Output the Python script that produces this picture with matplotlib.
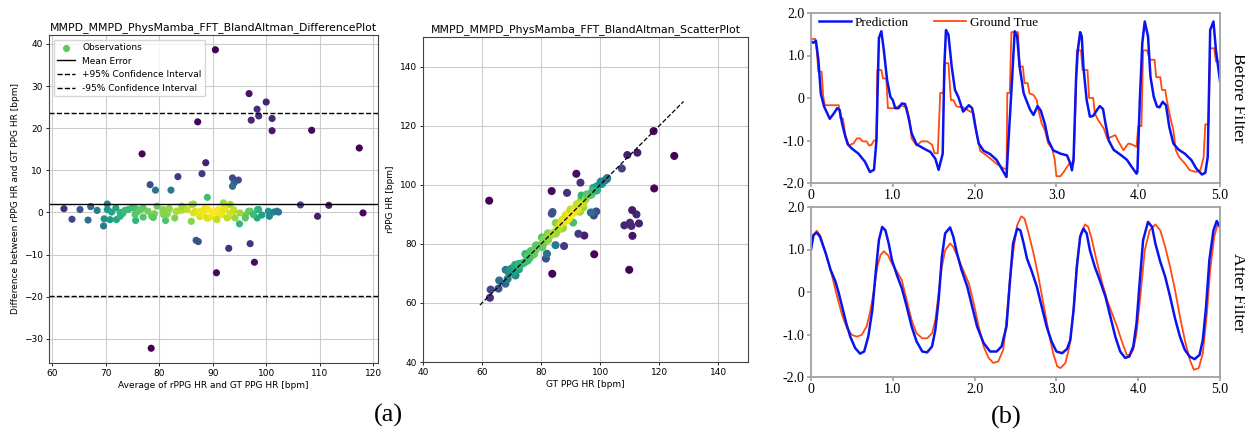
"""Bland-Altman plots (a) and rPPG waveforms before/after filtering (b)."""
import numpy as np
import matplotlib
matplotlib.use("Agg")
import matplotlib.pyplot as plt

# ---- (a) Bland-Altman data: mean of HRs, GT - rPPG
MEAN_HR = [
    90.5, 96.8, 100.0, 98.3, 98.6, 97.2, 101.1, 101.1, 87.2, 108.5, 117.4, 76.8,
    88.7, 88.0, 83.5, 78.3, 79.3, 82.2, 93.7, 94.8, 94.0, 93.7, 89.0,
    86.9, 87.3, 93.0, 97.0, 97.8, 90.7, 78.5,
    106.4, 109.6, 111.7, 118.1,
    62.2, 63.7, 65.2, 66.7, 67.2, 68.4, 69.6, 70.3, 70.3, 69.7, 70.8, 71.1,
    71.9, 72.0, 72.7, 73.6, 74.2, 75.6, 75.6, 76.1, 77.0, 77.0, 77.9, 78.6,
    79.1, 80.7, 81.2, 81.5, 81.9, 82.9, 83.2, 84.2, 84.8, 86.0, 86.4, 86.7,
    87.6, 88.5, 89.2, 90.1, 90.4,
    90.6, 91.1, 92.0, 92.3, 93.3, 93.0, 93.9, 94.2, 95.0, 96.1, 97.0, 98.3,
    98.6, 99.2, 100.4, 100.6, 101.4, 102.0, 102.3,
    87.7, 88.3, 88.9, 89.2, 89.8, 90.2, 90.8, 91.1, 91.7, 92.0, 92.7, 93.3,
    93.9, 86.1, 86.4, 85.2, 84.2, 83.3, 81.8, 80.8, 79.6, 78.9, 76.5, 75.5,
    74.9, 73.2, 72.7, 95.1, 96.1, 96.7, 97.6, 98.4,
]
DIFF_HR = [
    38.6, 28.2, 26.2, 24.5, 22.9, 21.9, 22.3, 19.4, 21.5, 19.5, 15.3, 13.9,
    11.8, 9.2, 8.5, 6.6, 5.3, 5.3, 8.2, 7.7, 7.0, 6.2, 3.6,
    -6.6, -6.9, -8.5, -7.4, -11.8, -14.3, -32.2,
    1.8, -0.9, 1.7, -0.1,
    0.9, -1.6, 0.7, -1.8, 1.4, 0.5, -3.2, 2.0, 0.7, -1.5, -1.7, 0.1,
    1.1, -1.7, 0.0, 0.5, 0.7, -1.9, 0.9, 0.3, 1.1, -1.1, 0.3, -0.9,
    -0.3, 0.7, -1.9, -0.4, 0.9, -1.3, 0.3, 0.5, 1.0, -2.1, 2.0, 0.3,
    -1.0, 0.9, -1.3, -0.9, 0.3,
    -1.3, 0.7, 2.3, 0.9, 1.9, -1.0, 0.3, -1.3, -2.7, -0.7, 0.3, -1.3,
    0.7, -0.6, 0.3, -0.9, 0.1, 0.3, 0.1,
    0.3, -0.5, -1.3, 0.7, -0.9, -0.1, -1.7, 0.3, -0.5, 0.7, -1.3, -0.1,
    0.7, 1.9, -0.1, 0.7, 1.5, 0.3, 0.9, -0.5, 1.5, -1.2, 0.7, -0.5,
    1.1, -0.2, -0.9, -0.1, -1.3, 0.3, -0.5, 0.7,
]
MEAN_ERROR = 1.95
UPPER_LOA = 23.6
LOWER_LOA = -19.7

# ---- (b) waveforms, time in seconds
BEFORE_PRED_T = [
    0.00, 0.03, 0.06, 0.09, 0.12, 0.16, 0.23, 0.28, 0.32, 0.35, 0.38, 0.42, 0.45,
    0.50, 0.58, 0.66, 0.72, 0.77, 0.80, 0.83, 0.86, 0.89, 0.93, 0.97, 1.00, 1.03,
    1.07, 1.11, 1.15, 1.19, 1.23, 1.29, 1.38, 1.46, 1.52, 1.56, 1.59, 1.61, 1.63,
    1.65, 1.68, 1.72, 1.76, 1.80, 1.86, 1.88, 1.93, 1.97, 2.01, 2.05, 2.11, 2.19,
    2.27, 2.33, 2.39, 2.41, 2.46, 2.49, 2.52, 2.55, 2.60, 2.64, 2.68, 2.72, 2.77,
    2.81, 2.86, 2.90, 2.96, 3.05, 3.13, 3.17, 3.19, 3.21, 3.24, 3.26, 3.29, 3.31,
    3.33, 3.37, 3.41, 3.45, 3.49, 3.53, 3.57, 3.60, 3.64, 3.70, 3.78, 3.86, 3.92,
    3.98, 3.99, 4.02, 4.05, 4.08, 4.12, 4.15, 4.19, 4.23, 4.26, 4.30, 4.34, 4.38,
    4.43, 4.49, 4.57, 4.65, 4.71, 4.78, 4.82, 4.85, 4.88, 4.92, 4.95, 5.00,
]
BEFORE_PRED_V = [
    1.33, 1.30, 1.35, 0.90, 0.10, -0.20, -0.49, -0.36, -0.24, -0.28, -0.60, -0.91, -1.09,
    -1.19, -1.31, -1.50, -1.74, -1.69, -1.00, 1.41, 1.57, 1.13, 0.43, 0.03, -0.05, -0.24,
    -0.24, -0.13, -0.14, -0.44, -0.83, -1.09, -1.19, -1.27, -1.43, -1.69, -1.46, -1.31, 0.74,
    1.60, 1.49, 0.74, 0.19, 0.03, -0.32, -0.28, -0.17, -0.24, -0.68, -1.07, -1.24, -1.32,
    -1.46, -1.66, -1.86, -1.15, 0.50, 1.57, 1.45, 0.74, 0.11, -0.09, -0.28, -0.40, -0.19,
    -0.30, -0.62, -0.99, -1.23, -1.31, -1.35, -1.54, -1.70, -1.42, 0.43, 1.09, 1.55, 1.45,
    0.74, -0.05, -0.44, -0.42, -0.30, -0.19, -0.26, -0.60, -1.00, -1.22, -1.33, -1.45, -1.62,
    -1.78, -1.74, -0.05, 1.29, 1.80, 1.45, 0.50, 0.03, -0.20, -0.22, -0.09, -0.17, -0.68,
    -1.07, -1.21, -1.31, -1.46, -1.66, -1.80, -1.76, -1.39, 1.60, 1.80, 1.13, 0.40,
]
BEFORE_GT_T = [
    0.00, 0.05, 0.07, 0.09, 0.13, 0.15, 0.17, 0.34, 0.36, 0.39, 0.42, 0.46, 0.52,
    0.56, 0.60, 0.63, 0.68, 0.71, 0.74, 0.77, 0.80, 0.81, 0.86, 0.88, 0.92, 0.94,
    1.03, 1.09, 1.17, 1.21, 1.23, 1.29, 1.35, 1.42, 1.48, 1.51, 1.55, 1.58, 1.62,
    1.64, 1.68, 1.71, 1.74, 1.78, 1.86, 1.93, 1.99, 2.02, 2.07, 2.13, 2.19, 2.27,
    2.35, 2.39, 2.40, 2.43, 2.45, 2.53, 2.55, 2.59, 2.61, 2.65, 2.67, 2.72, 2.76,
    2.78, 2.82, 2.86, 2.90, 2.95, 2.98, 3.00, 3.05, 3.09, 3.13, 3.16, 3.21, 3.23,
    3.25, 3.30, 3.32, 3.38, 3.40, 3.45, 3.47, 3.51, 3.58, 3.62, 3.68, 3.72, 3.76,
    3.82, 3.88, 3.92, 3.98, 4.00, 4.04, 4.06, 4.11, 4.14, 4.20, 4.22, 4.27, 4.29,
    4.33, 4.35, 4.39, 4.43, 4.46, 4.50, 4.57, 4.63, 4.71, 4.76, 4.80, 4.82, 4.86,
    4.88, 4.93, 4.95, 5.00,
]
BEFORE_GT_V = [
    1.39, 1.39, 1.13, 0.62, 0.62, 0.03, -0.17, -0.17, -0.48, -0.48, -0.87, -1.11, -1.07,
    -0.95, -0.95, -1.02, -1.02, -1.12, -1.10, -1.00, -1.00, 0.66, 0.66, 0.46, 0.46, -0.24,
    -0.24, -0.17, -0.22, -0.56, -0.95, -1.12, -1.02, -1.02, -1.10, -1.30, -1.30, 0.12, 0.12,
    0.82, 0.82, -0.05, -0.05, -0.20, -0.22, -0.30, -0.36, -0.80, -1.25, -1.33, -1.42, -1.55,
    -1.65, -1.68, 0.12, 0.12, 1.55, 1.55, 0.74, 0.74, 0.35, 0.35, 0.11, 0.07, -0.05,
    -0.28, -0.60, -0.76, -1.07, -1.19, -1.46, -1.84, -1.84, -1.74, -1.62, -1.54, -1.54, -0.40,
    1.12, 1.12, 0.66, 0.66, 0.00, 0.00, -0.36, -0.52, -0.72, -0.95, -0.91, -0.87, -1.03,
    -1.23, -1.07, -1.09, -1.15, -0.66, -0.66, 1.12, 1.12, 0.90, 0.90, 0.49, 0.49, 0.19,
    0.19, -0.05, -0.44, -0.76, -1.23, -1.39, -1.54, -1.70, -1.74, -1.70, -1.39, -0.62, -0.62,
    1.17, 1.17, 0.86, 0.86,
]
AFTER_PRED_T = [
    0.00, 0.03, 0.07, 0.11, 0.18, 0.24, 0.30, 0.34, 0.38, 0.43, 0.48, 0.54, 0.60,
    0.65, 0.70, 0.75, 0.79, 0.83, 0.87, 0.91, 0.95, 0.99, 1.05, 1.11, 1.17, 1.23,
    1.29, 1.36, 1.42, 1.48, 1.52, 1.56, 1.60, 1.64, 1.70, 1.74, 1.78, 1.84, 1.91,
    1.97, 2.03, 2.11, 2.19, 2.27, 2.33, 2.39, 2.43, 2.47, 2.52, 2.56, 2.60, 2.64,
    2.70, 2.76, 2.82, 2.88, 2.94, 3.00, 3.07, 3.13, 3.17, 3.21, 3.25, 3.29, 3.33,
    3.37, 3.41, 3.47, 3.53, 3.60, 3.66, 3.72, 3.78, 3.84, 3.89, 3.94, 3.98, 4.02,
    4.06, 4.12, 4.17, 4.21, 4.27, 4.33, 4.39, 4.45, 4.51, 4.57, 4.63, 4.69, 4.75,
    4.79, 4.83, 4.87, 4.92, 4.96, 5.00,
]
AFTER_PRED_V = [
    1.00, 1.34, 1.40, 1.30, 0.91, 0.52, 0.24, -0.03, -0.34, -0.73, -1.05, -1.32, -1.45,
    -1.40, -1.05, -0.42, 0.44, 1.22, 1.53, 1.45, 1.14, 0.75, 0.40, 0.09, -0.34, -0.81,
    -1.16, -1.40, -1.42, -1.28, -0.89, -0.19, 0.83, 1.38, 1.52, 1.30, 0.95, 0.52, 0.13,
    -0.34, -0.81, -1.20, -1.40, -1.40, -1.28, -0.81, 0.20, 1.14, 1.49, 1.45, 1.14, 0.79,
    0.48, 0.13, -0.34, -0.81, -1.16, -1.40, -1.44, -1.34, -1.13, -0.42, 0.59, 1.30, 1.49,
    1.38, 0.98, 0.59, 0.28, -0.11, -0.58, -1.05, -1.40, -1.55, -1.52, -1.28, -0.73, 0.28,
    1.22, 1.65, 1.53, 1.14, 0.71, 0.36, -0.11, -0.62, -1.05, -1.36, -1.52, -1.58, -1.48,
    -1.13, -0.34, 0.75, 1.45, 1.67, 1.53,
]
AFTER_GT_T = [
    0.00, 0.03, 0.07, 0.11, 0.18, 0.26, 0.32, 0.38, 0.44, 0.50, 0.56, 0.62, 0.68,
    0.72, 0.77, 0.81, 0.85, 0.89, 0.94, 0.99, 1.05, 1.11, 1.17, 1.23, 1.29, 1.36,
    1.42, 1.48, 1.52, 1.56, 1.60, 1.64, 1.70, 1.74, 1.80, 1.86, 1.93, 1.99, 2.05,
    2.11, 2.17, 2.23, 2.29, 2.35, 2.39, 2.43, 2.48, 2.52, 2.57, 2.61, 2.66, 2.72,
    2.78, 2.84, 2.90, 2.96, 3.01, 3.05, 3.11, 3.16, 3.21, 3.25, 3.30, 3.35, 3.39,
    3.43, 3.49, 3.55, 3.62, 3.68, 3.74, 3.80, 3.86, 3.90, 3.94, 3.98, 4.03, 4.08,
    4.14, 4.21, 4.27, 4.33, 4.39, 4.45, 4.51, 4.57, 4.63, 4.68, 4.74, 4.79, 4.84,
    4.88, 4.93, 4.97, 5.00,
]
AFTER_GT_V = [
    1.00, 1.34, 1.44, 1.34, 0.91, 0.36, -0.11, -0.54, -0.85, -1.01, -1.05, -1.01, -0.81,
    -0.50, 0.05, 0.59, 0.87, 0.96, 0.87, 0.67, 0.48, 0.28, -0.19, -0.66, -0.97, -1.09,
    -1.09, -0.97, -0.66, -0.03, 0.59, 0.98, 1.14, 1.06, 0.79, 0.52, 0.20, -0.27, -0.81,
    -1.28, -1.55, -1.67, -1.63, -1.36, -0.66, 0.28, 1.06, 1.57, 1.78, 1.73, 1.38, 0.91,
    0.36, -0.27, -0.89, -1.44, -1.75, -1.79, -1.67, -1.28, -0.42, 0.67, 1.38, 1.59, 1.53,
    1.26, 0.75, 0.28, -0.19, -0.50, -0.81, -1.16, -1.48, -1.48, -1.36, -0.97, -0.03, 0.98,
    1.45, 1.59, 1.45, 1.06, 0.59, 0.05, -0.58, -1.13, -1.59, -1.83, -1.79, -1.44, -0.50,
    0.52, 1.30, 1.59, 1.53,
]

W, H = 1245, 429
BLUE = "#0a14f0"
RED = "#ff4a12"
SERIF = "Liberation Serif"


def box(left, top, right, bottom):
    return [left / W, 1 - bottom / H, (right - left) / W, (bottom - top) / H]


def density(x, y):
    # same idea as scipy gaussian_kde with Scott's factor
    pts = np.vstack([x, y])
    n = pts.shape[1]
    cov = np.cov(pts) * n ** (-2.0 / 6)
    inv = np.linalg.inv(cov)
    dx = pts[0][:, None] - pts[0][None, :]
    dy = pts[1][:, None] - pts[1][None, :]
    q = inv[0, 0] * dx ** 2 + 2 * inv[0, 1] * dx * dy + inv[1, 1] * dy ** 2
    return np.exp(-0.5 * q).sum(axis=1)


def style_a(ax):
    for s in ax.spines.values():
        s.set_linewidth(0.8)
        s.set_color("#444444")
    ax.tick_params(labelsize=6.5, length=2.5, width=0.6, pad=2)
    ax.grid(True, color="#cccccc", lw=0.8)
    ax.set_axisbelow(True)


def style_b(ax):
    ax.set_xlim(0, 5)
    ax.set_ylim(-2, 2)
    ax.set_xticks([0, 1, 2, 3, 4, 5], ["0", "1.0", "2.0", "3.0", "4.0", "5.0"])
    ax.set_yticks([-2, -1, 0, 1, 2], ["-2.0", "-1.0", "0", "1.0", "2.0"])
    for s in ax.spines.values():
        s.set_linewidth(1.3)
        s.set_color("#a0a0a0")
    ax.tick_params(colors="#a0a0a0", labelcolor="black", labelsize=10,
                   labelfontfamily=SERIF, length=3, width=1.2, pad=1.5)


def main() -> None:
    mean_hr = np.array(MEAN_HR)
    diff_hr = np.array(DIFF_HR)
    gt_hr = mean_hr + diff_hr / 2
    pred_hr = mean_hr - diff_hr / 2

    fig = plt.figure(figsize=(W / 100, H / 100), dpi=100)

    # difference plot
    ax1 = fig.add_axes(box(49, 35, 378, 363))
    ax1.scatter(mean_hr, diff_hr, c=density(mean_hr, diff_hr), cmap="viridis",
                s=17, label="Observations")
    ax1.axhline(MEAN_ERROR, color="black", lw=1.0, label="Mean Error")
    ax1.axhline(UPPER_LOA, color="black", ls="--", lw=1.0,
                label="+95% Confidence Interval")
    ax1.axhline(LOWER_LOA, color="black", ls="--", lw=1.0,
                label="-95% Confidence Interval")
    ax1.set_xlim(59.4, 120.9)
    ax1.set_ylim(-35.7, 42.1)
    ax1.set_xticks(range(60, 121, 10))
    ax1.set_yticks(range(-30, 41, 10))
    ax1.set_xlabel("Average of rPPG HR and GT PPG HR [bpm]", fontsize=6.5, labelpad=2)
    ax1.set_ylabel("Difference between rPPG HR and GT PPG HR [bpm]", fontsize=6.5,
                   labelpad=3)
    ax1.set_title("MMPD_MMPD_PhysMamba_FFT_BlandAltman_DifferencePlot",
                  fontsize=7.8, pad=3.5)
    leg = ax1.legend(loc="upper left", fontsize=6.5)
    marker = leg.legend_handles[0]
    marker.set_array(None)
    marker.set_facecolor(plt.get_cmap("viridis")(0.75))
    marker.set_edgecolor(plt.get_cmap("viridis")(0.75))
    style_a(ax1)

    # scatter plot
    ax2 = fig.add_axes(box(423, 37, 748, 362))
    ax2.scatter(gt_hr, pred_hr, c=density(gt_hr, pred_hr), cmap="viridis", s=23)
    x_vals = np.array(ax2.get_xlim())
    ax2.plot(x_vals, x_vals, "--", color="black", lw=0.9)
    ax2.set_xlim(40, 150)
    ax2.set_ylim(40, 150)
    ax2.set_xticks(range(40, 141, 20))
    ax2.set_yticks(range(40, 141, 20))
    ax2.set_xlabel("GT PPG HR [bpm]", fontsize=6.5, labelpad=2)
    ax2.set_ylabel("rPPG HR [bpm]", fontsize=6.5, labelpad=3)
    ax2.set_title("MMPD_MMPD_PhysMamba_FFT_BlandAltman_ScatterPlot",
                  fontsize=7.8, pad=3.5)
    style_a(ax2)

    # waveforms
    ax3 = fig.add_axes(box(811, 13, 1220, 183))
    h_gt, = ax3.plot(BEFORE_GT_T, BEFORE_GT_V, color=RED, lw=1.3, label="Ground True")
    h_pred, = ax3.plot(BEFORE_PRED_T, BEFORE_PRED_V, color=BLUE, lw=1.8,
                       label="Prediction")
    style_b(ax3)
    ax3.legend(handles=[h_pred, h_gt], ncol=2, loc="center left",
               bbox_to_anchor=(0.02, 0.943), frameon=False,
               prop={"family": SERIF, "size": 9.5}, handlelength=2.4,
               handletextpad=0.3, columnspacing=1.9, borderpad=0, borderaxespad=0)
    ax3.text(1.044, 0.5, "Before Filter", transform=ax3.transAxes, rotation=270,
             ha="center", va="center", fontfamily=SERIF, fontsize=12.5)

    ax4 = fig.add_axes(box(811, 207, 1220, 377))
    ax4.plot(AFTER_GT_T, AFTER_GT_V, color=RED, lw=1.3)
    ax4.plot(AFTER_PRED_T, AFTER_PRED_V, color=BLUE, lw=1.8)
    style_b(ax4)
    ax4.text(1.044, 0.5, "After Filter", transform=ax4.transAxes, rotation=270,
             ha="center", va="center", fontfamily=SERIF, fontsize=12.5)

    fig.text(388 / W, 1 - 415 / H, "(a)", ha="center", va="center",
             fontfamily=SERIF, fontsize=19)
    fig.text(1006 / W, 1 - 417 / H, "(b)", ha="center", va="center",
             fontfamily=SERIF, fontsize=19)

    fig.savefig("out.png", dpi=100)
    plt.close(fig)


if __name__ == "__main__":
    main()
